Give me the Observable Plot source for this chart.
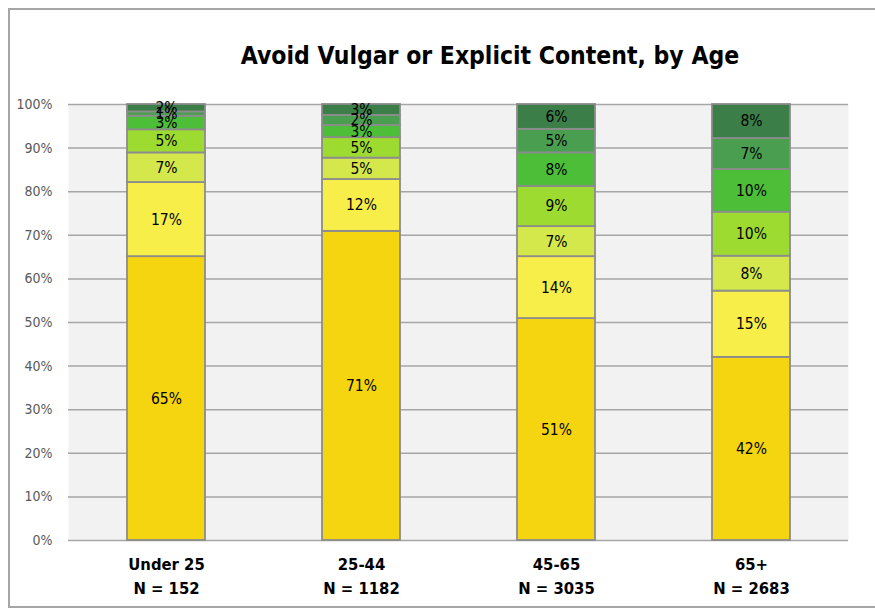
<!DOCTYPE html>
<html>
<head>
<meta charset="utf-8">
<script src="https://cdn.jsdelivr.net/npm/d3@7"></script>
<script src="https://cdn.jsdelivr.net/npm/@observablehq/plot@0.6"></script>
<style>
  html, body { margin: 0; padding: 0; background: #ffffff; }
  #wrap { position: relative; width: 875px; height: 613px; overflow: hidden; font-family: "DejaVu Sans Condensed", "DejaVu Sans", sans-serif; }
  #frame { position: absolute; left: 8px; top: 8px; width: 880px; height: 600px; border: 2px solid #a6a6a6; box-sizing: border-box; }
  #title { position: absolute; left: 0; width: 980px; top: 41px; text-align: center; font-size: 24.5px; font-weight: bold; color: #000; }
  #chart { position: absolute; left: 0; top: 0; }
</style>
</head>
<body>
<div id="wrap">
  <div id="frame"></div>
  <div id="chart"></div>
  <div id="title">Avoid Vulgar or Explicit Content, by Age</div>
</div>
<script>
const ages = ["Under 25", "25-44", "45-65", "65+"];
const sampleSizes = ["N = 152", "N = 1182", "N = 3035", "N = 2683"];
const levels = ["L1", "L2", "L3", "L4", "L5", "L6", "L7"];
// segment shares (%) from bottom to top, per age group
const under25 = [65.1, 17.0, 6.8, 5.3, 3.1, 1.0, 1.7];
const age25to44 = [70.9, 11.9, 4.9, 4.7, 2.8, 2.3, 2.5];
const age45to65 = [50.9, 14.2, 6.9, 9.2, 7.7, 5.4, 5.7];
const age65plus = [42.0, 15.2, 8.0, 10.1, 9.8, 7.1, 7.8];
const yTicks = [0, 10, 20, 30, 40, 50, 60, 70, 80, 90, 100];
const levelColors = ["#f5d50f", "#f7ee4a", "#d4e84c", "#9edb30", "#4cbe38", "#4a9e50", "#3b7e48"];

const series = [under25, age25to44, age45to65, age65plus];
const rows = [];
ages.forEach((a, i) => {
  series[i].forEach((v, j) => rows.push({age: a, level: levels[j], value: v, label: Math.round(v) + "%"}));
});
const nLabel = new Map(ages.map((a, i) => [a, a + "\n" + sampleSizes[i]]));

const chart = Plot.plot({
  width: 875,
  height: 613,
  marginTop: 104,
  marginBottom: 73,
  marginLeft: 68,
  marginRight: 27,
  style: {fontFamily: "'DejaVu Sans Condensed', 'DejaVu Sans', sans-serif", background: "transparent"},
  x: {domain: ages, paddingInner: 0.6, paddingOuter: 0.3, label: null},
  y: {domain: [0, 100], label: null},
  color: {domain: levels, range: levelColors},
  marks: [
    Plot.frame({fill: "#f2f2f2", stroke: null}),
    Plot.gridY(yTicks, {stroke: "#a6a6a6", strokeOpacity: 1, strokeWidth: 1.5}),
    Plot.axisY({ticks: yTicks, tickSize: 0, tickPadding: 16, tickFormat: d => d + "%", fontSize: 14, fill: "#595959", label: null}),
    Plot.axisX({tickSize: 0, tickPadding: 13, tickFormat: d => nLabel.get(d), fontSize: 16.5, fontWeight: "bold", fill: "#000", lineHeight: 1.45, label: null}),
    Plot.barY(rows, {x: "age", y: "value", fill: "level", stroke: "#8c8c8c", strokeWidth: 1.8}),
    Plot.text(rows, Plot.stackY({x: "age", y: "value", text: "label", fontSize: 15.5, fill: "#000"}))
  ]
});
document.getElementById("chart").appendChild(chart);
</script>
</body>
</html>
